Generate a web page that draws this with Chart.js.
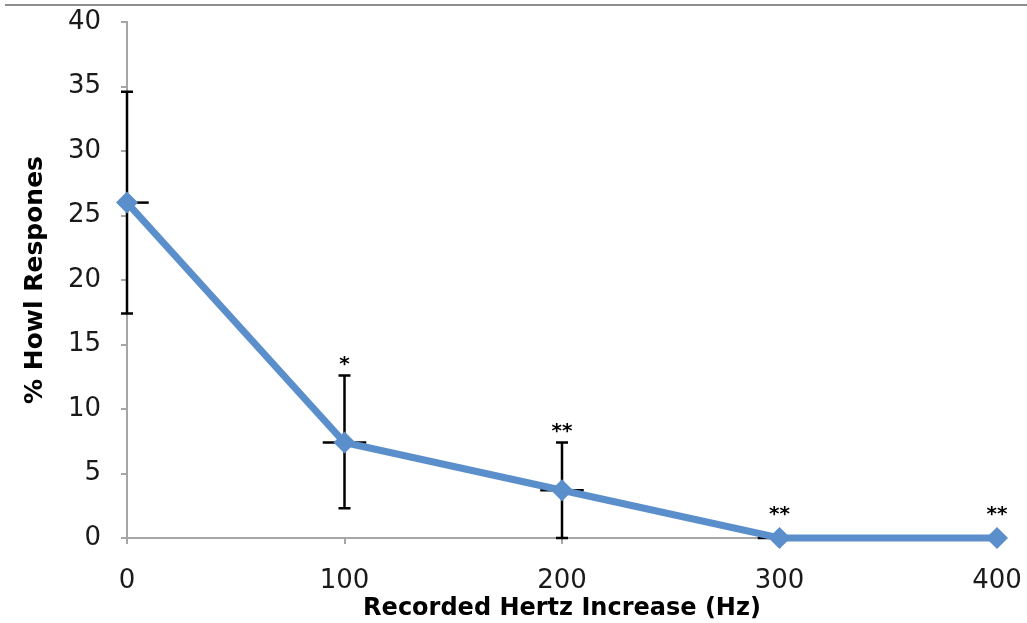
<!DOCTYPE html>
<html>
<head>
<meta charset="utf-8">
<script src="https://cdn.jsdelivr.net/npm/chart.js@4.4.1/dist/chart.umd.min.js"></script>
<style>
  html, body { margin: 0; padding: 0; background: #fff; }
  #wrap { width: 1027px; height: 623px; }
</style>
</head>
<body>
<div id="wrap"><canvas id="c" width="1027" height="623"></canvas></div>
<script>
// ---- data ----
const hertzIncrease = [0, 100, 200, 300, 400];
const howlPercent   = [26, 7.4, 3.7, 0, 0];
const errorUpper    = [34.6, 12.6, 7.4, 0, 0];
const errorLower    = [17.4, 2.3, 0, 0, 0];
const hertzError    = [10, 10, 10, 10, 10];
const significance  = ['', '*', '**', '**', '**'];
const xTitle = 'Recorded Hertz Increase (Hz)';
const yTitle = '% Howl Respones';

const FONT = 'DejaVu Sans';
const AXIS_GRAY = '#a6a6a6';
const LINE_BLUE = '#5b8fcc';

const errorBarsPlugin = {
  id: 'errorBars',
  beforeDatasetsDraw(chart) {
    const { ctx, scales: { x, y } } = chart;
    ctx.save();
    ctx.strokeStyle = '#000';
    ctx.lineWidth = 2.5;
    ctx.lineCap = 'butt';
    for (let i = 0; i < hertzIncrease.length; i++) {
      const px = x.getPixelForValue(hertzIncrease[i]);
      const py = y.getPixelForValue(howlPercent[i]);
      const up = y.getPixelForValue(errorUpper[i]);
      const lo = y.getPixelForValue(errorLower[i]);
      if (errorUpper[i] !== errorLower[i]) {
        ctx.beginPath();
        ctx.moveTo(px, up); ctx.lineTo(px, lo);
        ctx.moveTo(px - 6, up); ctx.lineTo(px + 6, up);
        ctx.moveTo(px - 6, lo); ctx.lineTo(px + 6, lo);
        ctx.stroke();
      }
      const xl = x.getPixelForValue(Math.max(x.min, hertzIncrease[i] - hertzError[i]));
      const xr = x.getPixelForValue(Math.min(x.max, hertzIncrease[i] + hertzError[i]));
      ctx.beginPath();
      ctx.moveTo(xl, py); ctx.lineTo(xr, py);
      ctx.stroke();
    }
    ctx.restore();
  },
  afterDraw(chart) {
    const { ctx, scales: { x, y } } = chart;
    ctx.save();
    // significance marks
    ctx.fillStyle = '#000';
    ctx.font = 'bold 20px "' + FONT + '"';
    ctx.textAlign = 'center';
    ctx.textBaseline = 'middle';
    for (let i = 0; i < hertzIncrease.length; i++) {
      if (!significance[i]) continue;
      const px = x.getPixelForValue(hertzIncrease[i]);
      const up = y.getPixelForValue(errorUpper[i]);
      const py = y.getPixelForValue(howlPercent[i]);
      const ty = Math.min(up - 11, py - 23);
      ctx.fillText(significance[i], px, ty);
    }
    // thin frame line across the top of the picture
    ctx.strokeStyle = '#8f8f8f';
    ctx.lineWidth = 2;
    ctx.beginPath();
    ctx.moveTo(5, 5); ctx.lineTo(chart.width, 5);
    ctx.stroke();
    ctx.restore();
  }
};

new Chart(document.getElementById('c'), {
  type: 'line',
  data: {
    datasets: [{
      data: hertzIncrease.map((h, i) => ({ x: h, y: howlPercent[i] })),
      borderColor: LINE_BLUE,
      backgroundColor: LINE_BLUE,
      borderWidth: 7,
      tension: 0,
      pointStyle: 'rectRot',
      pointRadius: 11,
      pointHoverRadius: 11,
      pointBorderWidth: 0,
      clip: false
    }]
  },
  options: {
    responsive: false,
    animation: false,
    devicePixelRatio: 1,
    layout: { padding: { top: 22, right: 30, left: 0, bottom: 0 } },
    plugins: { legend: { display: false }, tooltip: { enabled: false } },
    scales: {
      x: {
        type: 'linear',
        min: 0, max: 400,
        ticks: { stepSize: 100, color: '#1a1a1a', font: { family: FONT, size: 26 }, padding: 22 },
        grid: { drawOnChartArea: false, drawTicks: true, tickLength: 6, color: AXIS_GRAY, lineWidth: 2 },
        border: { display: true, color: AXIS_GRAY, width: 2 },
        title: { display: true, text: xTitle, color: '#000', font: { family: FONT, size: 24, weight: 'bold' }, padding: { top: 0, bottom: 0 } },
        afterFit(scale) { scale.height = 85; scale.paddingLeft = 0; scale.paddingRight = 0; }
      },
      y: {
        min: 0, max: 40,
        ticks: { stepSize: 5, color: '#1a1a1a', font: { family: FONT, size: 26 }, padding: 20 },
        grid: { drawOnChartArea: false, drawTicks: true, tickLength: 6, color: AXIS_GRAY, lineWidth: 2 },
        border: { display: true, color: AXIS_GRAY, width: 2 },
        title: { display: true, text: yTitle, color: '#000', font: { family: FONT, size: 25, weight: 'bold' }, padding: { top: 20, bottom: 0 } },
        afterFit(scale) { scale.width = 127; scale.paddingTop = 0; scale.paddingBottom = 0; }
      }
    }
  },
  plugins: [errorBarsPlugin]
});
</script>
</body>
</html>
